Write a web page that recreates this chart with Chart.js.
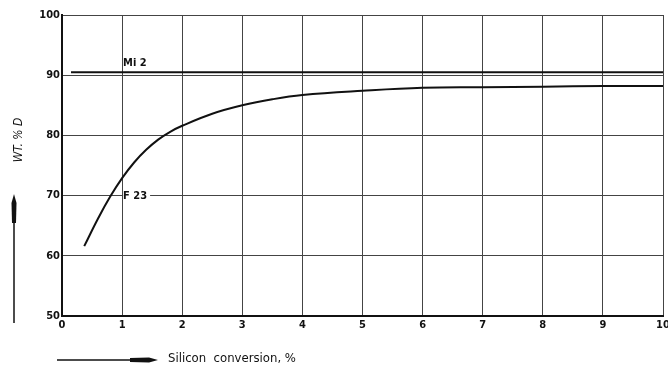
<!DOCTYPE html>
<html><head><meta charset="utf-8">
<script src="https://cdn.jsdelivr.net/npm/chart.js@4"></script>
<style>html,body{margin:0;padding:0;background:#fff;overflow:hidden}#wrap{width:668px;height:369px;position:relative}</style>
</head><body><div id="wrap"><canvas id="c"></canvas></div>
<script>
const xTicks = [0,1,2,3,4,5,6,7,8,9,10];
const yTicks = [50,60,70,80,90,100];
const f23X = [0.37,0.6,0.8,1.0,1.2,1.4,1.6,1.8,2.0,2.5,3.0,3.5,4.0,5.0,6.0,7.0,8.0,9.0,10.0];
const f23Y = [61.6,66.2,69.8,72.9,75.5,77.6,79.3,80.6,81.6,83.6,85.0,86.0,86.7,87.4,87.9,88.0,88.1,88.2,88.2];
const mi2X = [0.15,10];
const mi2Y = [90.5,90.5];
const seriesNames = ['Mi 2','F 23'];
const labelAt = [[1.0,90.5],[1.0,70]];
const xTitle = 'Silicon  conversion, %';
const yTitle = 'WT. % D';

const INK = '#111';
const FONT = "'DejaVu Sans Condensed','DejaVu Sans',sans-serif";

const toPts = (xs, ys) => xs.map((x,i)=>({x, y: ys[i]}));

const deco = {
  id: 'deco',
  afterDraw(chart) {
    const ctx = chart.ctx, xs = chart.scales.x, ys = chart.scales.y;
    ctx.save();
    ctx.fillStyle = INK; ctx.strokeStyle = INK;
    ctx.font = 'bold 11px ' + FONT;
    let px = xs.getPixelForValue(labelAt[0][0]), py = ys.getPixelForValue(labelAt[0][1]);
    ctx.textAlign = 'left'; ctx.textBaseline = 'alphabetic';
    ctx.fillText(seriesNames[0], px + 1, py - 6);
    px = xs.getPixelForValue(labelAt[1][0]); py = ys.getPixelForValue(labelAt[1][1]);
    const w = ctx.measureText(seriesNames[1]).width;
    ctx.fillStyle = '#fff';
    ctx.fillRect(px + 1, py - 6, w + 3, 12);
    ctx.fillStyle = INK;
    ctx.textBaseline = 'middle';
    ctx.fillText(seriesNames[1], px + 1, py + 1);
    ctx.save();
    ctx.translate(19, 140);
    ctx.rotate(-Math.PI/2);
    ctx.font = 'italic 12px ' + FONT;
    ctx.textAlign = 'center'; ctx.textBaseline = 'middle';
    ctx.fillText(yTitle, 0, 0);
    ctx.restore();
    ctx.lineWidth = 1.5;
    ctx.beginPath(); ctx.moveTo(14, 323); ctx.lineTo(14, 215); ctx.stroke();
    ctx.beginPath(); ctx.moveTo(14, 194); ctx.lineTo(16.5, 203); ctx.lineTo(16, 223); ctx.lineTo(12, 223); ctx.lineTo(11.5, 203); ctx.closePath(); ctx.fill();
    ctx.beginPath(); ctx.moveTo(57, 360); ctx.lineTo(135, 360); ctx.stroke();
    ctx.beginPath(); ctx.moveTo(158, 360); ctx.lineTo(149, 357.5); ctx.lineTo(130, 358); ctx.lineTo(130, 362); ctx.lineTo(149, 362.5); ctx.closePath(); ctx.fill();
    ctx.font = '13px ' + FONT;
    ctx.textAlign = 'left'; ctx.textBaseline = 'middle';
    ctx.fillText(xTitle, 168, 359);
    ctx.restore();
  }
};

new Chart(document.getElementById('c'), {
  type: 'scatter',
  data: {
    datasets: [
      { label: seriesNames[0], data: toPts(mi2X, mi2Y), showLine: true, borderColor: INK, borderWidth: 2, pointRadius: 0 },
      { label: seriesNames[1], data: toPts(f23X, f23Y), showLine: true, borderColor: INK, borderWidth: 2, pointRadius: 0, tension: 0.4 }
    ]
  },
  options: {
    responsive: true, maintainAspectRatio: false, animation: false,
    layout: { padding: { top: 15, right: 5, left: 0, bottom: 0 } },
    plugins: { legend: { display: false }, tooltip: { enabled: false } },
    scales: {
      x: {
        type: 'linear', min: 0, max: 10,
        afterBuildTicks: s => { s.ticks = xTicks.map(v => ({ value: v })); },
        afterFit: s => { s.height = 53; s.paddingLeft = 0; s.paddingRight = 0; },
        ticks: { color: INK, font: { family: FONT, size: 11, weight: 'bold' }, padding: 3, maxRotation: 0, autoSkip: false },
        grid: { color: '#444', lineWidth: 1, drawTicks: false },
        border: { color: INK, width: 2 }
      },
      y: {
        min: 50, max: 100,
        afterBuildTicks: s => { s.ticks = yTicks.map(v => ({ value: v })); },
        afterFit: s => { s.width = 62; s.paddingTop = 0; s.paddingBottom = 0; },
        ticks: { color: INK, font: { family: FONT, size: 11, weight: 'bold' }, padding: 2 },
        grid: { color: '#444', lineWidth: 1, drawTicks: false },
        border: { color: INK, width: 2 }
      }
    }
  },
  plugins: [deco]
});
</script>
</body></html>
